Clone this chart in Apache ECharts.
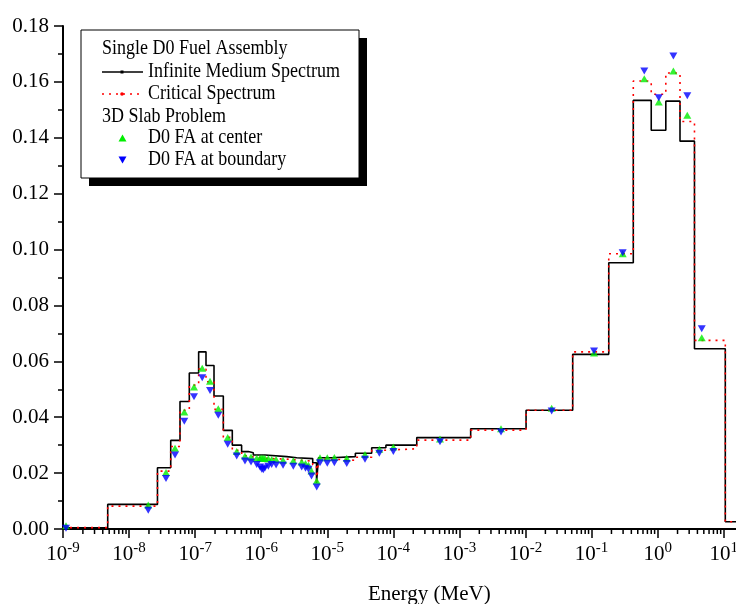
<!DOCTYPE html>
<html>
<head>
<meta charset="utf-8">
<script src="https://cdn.jsdelivr.net/npm/echarts@6/dist/echarts.min.js"></script>
<style>
  html, body { margin: 0; padding: 0; background: #fff; }
  #chart { width: 736px; height: 604px; }
</style>
</head>
<body>
<div id="chart"></div>
<script>
// group edges in MeV (ascending), one more than the number of groups
const groupEdges = [1e-9, 4.75e-9, 2.69e-8, 4.27e-8, 5.90e-8, 8.16e-8, 1.13e-7, 1.46e-7, 1.93e-7, 2.67e-7,
  3.65e-7, 5.05e-7, 6.38e-7, 7.59e-7, 1.14e-6, 2.43e-6, 3.45e-6, 6.02e-6, 6.87e-6, 7.36e-6,
  1.17e-5, 2.66e-5, 4.70e-5, 7.71e-5, 2.26e-4, 1.48e-3, 1.02e-2, 5.18e-2, 0.182, 0.428,
  0.80, 1.33, 2.18, 3.61, 10.57, 20]
const infiniteMedium = [0.0004, 0.0088, 0.0219, 0.0317, 0.0456, 0.0558, 0.0634, 0.0585, 0.0476, 0.0353,
  0.0300, 0.0277, 0.0273, 0.0265, 0.0259, 0.0255, 0.0252, 0.0237, 0.0165, 0.0255,
  0.0259, 0.0271, 0.0291, 0.0300, 0.0327, 0.0359, 0.0425, 0.0625, 0.0953, 0.1534,
  0.1427, 0.1531, 0.1388, 0.0645, 0.0026]
const critical = [0.0005, 0.0082, 0.0207, 0.0295, 0.0425, 0.0515, 0.0572, 0.0527, 0.0428, 0.0328,
  0.0282, 0.0262, 0.0258, 0.0253, 0.0250, 0.0247, 0.0243, 0.0230, 0.0160, 0.0250,
  0.0246, 0.0257, 0.0282, 0.0287, 0.0318, 0.0354, 0.0425, 0.0634, 0.0985, 0.1603,
  0.1556, 0.1632, 0.1458, 0.0675, 0.0026]

// 3D slab results (same energies for both assemblies)
const slabEnergy = [1.11e-9, 1.95e-8, 3.62e-8, 4.96e-8, 6.85e-8, 9.61e-8, 1.28e-7, 1.68e-7, 2.24e-7, 3.11e-7,
  4.26e-7, 5.68e-7, 7.01e-7, 8.55e-7, 9.59e-7, 1.02e-6, 1.075e-6, 1.14e-6, 1.28e-6, 1.44e-6,
  1.68e-6, 2.14e-6, 3.06e-6, 4.10e-6, 4.68e-6, 5.20e-6, 5.77e-6, 6.92e-6, 7.76e-6, 1.0e-5,
  1.28e-5, 1.97e-5, 3.72e-5, 6.13e-5, 1.0e-4, 5.08e-4, 4.26e-3, 2.49e-2, 0.109, 0.296,
  0.628, 1.04, 1.73, 2.81, 4.65]
const centerValue = [0.0012, 0.0086, 0.0202, 0.0289, 0.0419, 0.0508, 0.0575, 0.0529, 0.0430, 0.0327,
  0.0277, 0.0261, 0.0258, 0.0253, 0.0253, 0.0254, 0.0253, 0.0252, 0.0251, 0.0249,
  0.0249, 0.0246, 0.0244, 0.0240, 0.0234, 0.0228, 0.0208, 0.0172, 0.0255, 0.0255,
  0.0256, 0.0253, 0.0267, 0.0285, 0.0293, 0.0322, 0.0359, 0.0432, 0.0630, 0.0985,
  0.1611, 0.1528, 0.1639, 0.1481, 0.0684]
const boundaryValue = [0.0003, 0.0067, 0.0181, 0.0265, 0.0386, 0.0473, 0.0541, 0.0496, 0.0407, 0.0303,
  0.0261, 0.0243, 0.0240, 0.0231, 0.0222, 0.0214, 0.0212, 0.0218, 0.0225, 0.0231,
  0.0229, 0.0228, 0.0225, 0.0222, 0.0217, 0.0214, 0.0190, 0.0150, 0.0237, 0.0235,
  0.0237, 0.0234, 0.0250, 0.0271, 0.0277, 0.0312, 0.0347, 0.0422, 0.0637, 0.0989,
  0.1639, 0.1543, 0.1693, 0.1550, 0.0717]

const xMin = 1e-9
const xMax = 20
const decades = [-9, -8, -7, -6, -5, -4, -3, -2, -1, 0, 1]
const minorSteps = [2, 3, 4, 5, 6, 7, 8, 9]
const FONT = '"Liberation Serif", "Times New Roman", serif'

// step line: left edge of every group, plus the last right edge
function stepData(values) {
  const pts = values.map((v, i) => [groupEdges[i], v])
  pts.push([groupEdges[values.length], values[values.length - 1]])
  return pts
}

const minorTicks = []
decades.forEach((d) => {
  minorSteps.forEach((k) => {
    const e = k * Math.pow(10, d)
    if (e <= xMax) minorTicks.push([e, 0])
  })
})

function legendText(x, y, text) {
  return {
    type: "text", x: x, y: y, scaleY: 1.12, z: 12,
    style: { text: text, font: "18px " + FONT, fill: "#000", verticalAlign: "middle" },
  }
}

const chart = echarts.init(document.getElementById("chart"))

chart.setOption({
  animation: false,
  backgroundColor: "#fff",
  // the plot runs on past the right edge of the picture, up to 20 MeV
  grid: { left: 63, top: 26, width: 680.6, height: 503, outerBoundsMode: "none" },
  xAxis: {
    type: "log",
    logBase: 10,
    min: xMin,
    max: xMax,
    interval: 1,
    name: "Energy (MeV)",
    nameLocation: "middle",
    nameGap: 55,
    nameTextStyle: { fontFamily: FONT, fontSize: 21, color: "#000", padding: [0, 0, 0, 52] },
    axisLine: { lineStyle: { color: "#000", width: 2 } },
    axisTick: { length: 9, lineStyle: { color: "#000", width: 1.5 } },
    splitLine: { show: false },
    axisLabel: {
      margin: 12,
      showMaxLabel: false,
      formatter(v) {
        const lg = Math.log10(v)
        const e = Math.round(lg)
        if (Math.abs(lg - e) > 1e-6) return ""
        return "{b|10}{s|" + e + "}"
      },
      rich: {
        b: { fontFamily: FONT, fontSize: 21, color: "#000", lineHeight: 24, verticalAlign: "bottom" },
        s: { fontFamily: FONT, fontSize: 15, color: "#000", lineHeight: 24, verticalAlign: "top" },
      },
    },
  },
  yAxis: {
    type: "value",
    min: 0,
    max: 0.18,
    interval: 0.02,
    axisLine: { show: true, lineStyle: { color: "#000", width: 2 } },
    axisTick: { show: true, length: 9, lineStyle: { color: "#000", width: 1.5 } },
    minorTick: { show: true, splitNumber: 2, length: 5, lineStyle: { color: "#000", width: 1.5 } },
    splitLine: { show: false },
    axisLabel: {
      margin: 14,
      fontFamily: FONT,
      fontSize: 21,
      color: "#000",
      formatter: (v) => v.toFixed(2),
    },
  },
  series: [
    {
      name: "Infinite Medium Spectrum",
      type: "line",
      step: "end",
      data: stepData(infiniteMedium),
      symbol: "none",
      lineStyle: { color: "#000", width: 1.6 },
      z: 3,
    },
    {
      name: "Critical Spectrum",
      type: "line",
      step: "end",
      data: stepData(critical),
      symbol: "none",
      lineStyle: { color: "#ff0000", width: 1.6, type: [2, 5] },
      z: 4,
    },
    {
      name: "D0 FA at center",
      type: "scatter",
      data: slabEnergy.map((e, i) => [e, centerValue[i]]),
      symbol: "triangle",
      symbolSize: [8, 7],
      itemStyle: { color: "#00ee00" },
      z: 5,
    },
    {
      name: "D0 FA at boundary",
      type: "scatter",
      data: slabEnergy.map((e, i) => [e, boundaryValue[i]]),
      symbol: "triangle",
      symbolRotate: 180,
      symbolSize: [8, 7],
      itemStyle: { color: "#0000ff" },
      z: 6,
    },
    {
      // log minor ticks of the energy axis
      type: "custom",
      silent: true,
      clip: false,
      data: minorTicks,
      renderItem(params, api) {
        const p = api.coord([api.value(0), 0])
        return {
          type: "line",
          shape: { x1: p[0], y1: p[1], x2: p[0], y2: p[1] + 5 },
          style: { stroke: "#000", lineWidth: 1.5 },
        }
      },
      z: 2,
    },
  ],
  graphic: [
    { type: "rect", shape: { x: 89, y: 38, width: 278, height: 148 }, style: { fill: "#000" }, z: 10 },
    { type: "rect", shape: { x: 81, y: 30, width: 278, height: 148 }, style: { fill: "#fff", stroke: "#000", lineWidth: 1 }, z: 11 },
    legendText(102, 49, "Single D0 Fuel Assembly"),
    { type: "line", shape: { x1: 102, y1: 72, x2: 143, y2: 72 }, style: { stroke: "#000", lineWidth: 1.5 }, z: 12 },
    { type: "rect", shape: { x: 120.5, y: 70.5, width: 3, height: 3 }, style: { fill: "#000" }, z: 12 },
    legendText(148, 72, "Infinite Medium Spectrum"),
    { type: "line", shape: { x1: 102, y1: 94, x2: 143, y2: 94 }, style: { stroke: "#ff0000", lineWidth: 1.5, lineDash: [2, 5] }, z: 12 },
    { type: "circle", shape: { cx: 122, cy: 94, r: 1.8 }, style: { fill: "#ff0000" }, z: 12 },
    legendText(148, 94, "Critical Spectrum"),
    legendText(102, 117, "3D Slab Problem"),
    { type: "polygon", shape: { points: [[122.5, 134.5], [118.5, 141.5], [126.5, 141.5]] }, style: { fill: "#00ee00" }, z: 12 },
    legendText(148, 138, "D0 FA at center"),
    { type: "polygon", shape: { points: [[118.5, 156.5], [126.5, 156.5], [122.5, 163.5]] }, style: { fill: "#0000ff" }, z: 12 },
    legendText(148, 160, "D0 FA at boundary"),
  ],
})
</script>
</body>
</html>
